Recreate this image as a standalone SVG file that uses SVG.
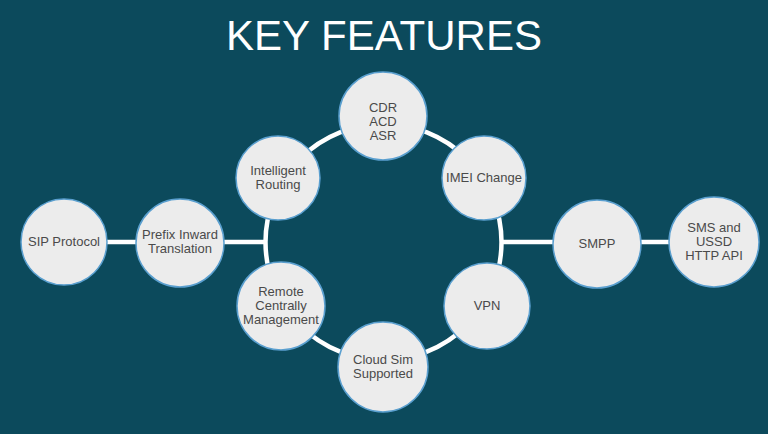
<svg xmlns="http://www.w3.org/2000/svg" width="768" height="434" viewBox="0 0 768 434">
<style>
.node{fill:#ececec;stroke:#5a9fcf;stroke-width:1.5}
.lbl{font-family:"Liberation Sans",Arial,sans-serif;font-size:13px;fill:#4a4a4a;text-anchor:middle}
.con{stroke:#ffffff;stroke-width:4.5;fill:none}
</style>
<rect width="768" height="434" fill="#0c4a5c"/>
<text x="384" y="50" font-family="'Liberation Sans',Arial,sans-serif" font-size="42" fill="#ffffff" text-anchor="middle">KEY FEATURES</text>
<g id="connectors">
<circle class="con" cx="383.5" cy="242" r="118"/>
<line class="con" x1="100" y1="242" x2="140" y2="242"/>
<line class="con" x1="220" y1="242" x2="266" y2="242"/>
<line class="con" x1="501" y1="242" x2="558" y2="242"/>
<line class="con" x1="636" y1="242" x2="675" y2="242"/>
</g>
<g id="n-cdr"><circle class="node" cx="383" cy="116" r="44"/><text class="lbl" x="383" y="112">CDR</text><text class="lbl" x="383" y="126">ACD</text><text class="lbl" x="383" y="140">ASR</text></g>
<g id="n-routing"><circle class="node" cx="278" cy="178" r="42"/><text class="lbl" x="278" y="175">Intelligent</text><text class="lbl" x="278" y="189">Routing</text></g>
<g id="n-imei"><circle class="node" cx="484" cy="178" r="42"/><text class="lbl" x="484" y="182">IMEI Change</text></g>
<g id="n-sip"><circle class="node" cx="64" cy="242" r="43"/><text class="lbl" x="64" y="246">SIP Protocol</text></g>
<g id="n-prefix"><circle class="node" cx="180" cy="243" r="44"/><text class="lbl" x="180" y="239">Prefix Inward</text><text class="lbl" x="180" y="253">Translation</text></g>
<g id="n-remote"><circle class="node" cx="281" cy="306" r="44"/><text class="lbl" x="281" y="296">Remote</text><text class="lbl" x="281" y="310">Centrally</text><text class="lbl" x="281" y="324">Management</text></g>
<g id="n-cloud"><circle class="node" cx="383" cy="367" r="45"/><text class="lbl" x="383" y="364">Cloud Sim</text><text class="lbl" x="383" y="378">Supported</text></g>
<g id="n-vpn"><circle class="node" cx="487" cy="306" r="43"/><text class="lbl" x="487" y="310">VPN</text></g>
<g id="n-smpp"><circle class="node" cx="597" cy="244" r="44"/><text class="lbl" x="597" y="248">SMPP</text></g>
<g id="n-sms"><circle class="node" cx="714" cy="242" r="45"/><text class="lbl" x="714" y="232">SMS and</text><text class="lbl" x="714" y="246">USSD</text><text class="lbl" x="714" y="260">HTTP API</text></g>
</svg>
